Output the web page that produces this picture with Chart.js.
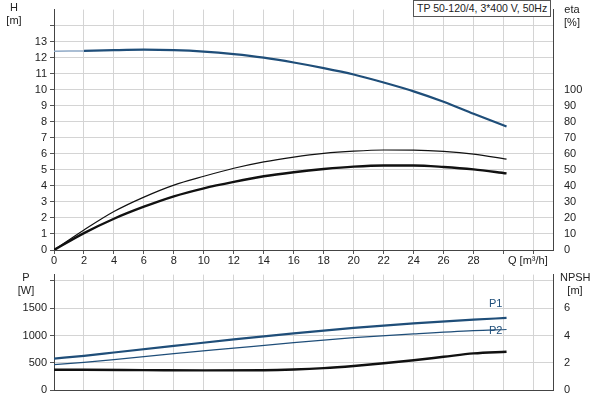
<!DOCTYPE html>
<html><head><meta charset="utf-8">
<script src="https://cdn.jsdelivr.net/npm/chart.js@4"></script>
<style>
body{margin:0;background:#fff;font-family:"Liberation Sans",Arial,sans-serif;}
#w{position:relative;width:600px;height:400px;}
canvas{position:absolute;left:0;}
.t{position:absolute;font-size:11px;color:#222;text-align:center;line-height:13px;}
</style></head><body>
<div id="w">
<canvas id="c1" style="top:0" width="600" height="265"></canvas>
<canvas id="c2" style="top:265px" width="600" height="135"></canvas>
<div class="t" style="left:2px;top:1px;width:24px">H<br>[m]</div>
<div class="t" style="left:560px;top:3px;width:24px">eta<br>[%]</div>
<div class="t" style="left:413px;top:0px;border:1px solid #555;background:#fff;padding:1px 3px;font-size:10.5px">TP 50-120/4, 3*400 V, 50Hz</div>
<div class="t" style="left:508px;top:254px">Q [m³/h]</div>
<div class="t" style="left:14px;top:271px;width:24px">P<br>[W]</div>
<div class="t" style="left:560px;top:271px;width:30px">NPSH<br>[m]</div>
<div class="t" style="left:489px;top:297px;color:#1f4e79">P1</div>
<div class="t" style="left:489px;top:324px;color:#1f4e79">P2</div>
</div>
<script>
const qH=[2,4,6,8,10,12,14,16,18,20,22,24,26,28,30.2];
const hVals=[12.42,12.47,12.5,12.47,12.38,12.22,12.0,11.7,11.35,10.95,10.45,9.9,9.25,8.5,7.7];
const hExtQ=[0,2]; const hExtVals=[12.4,12.42];
const qEta=[0,2,4,6,8,10,12,14,16,18,20,22,24,26,28,30.2];
const etaVals=[0,10.5,19.5,27,33.5,38.5,42.5,46,48.5,50.5,52,52.7,52.7,51.8,50.3,47.8];
const etaTotVals=[0,12.5,24,33,40.5,46,51,55,58,60.3,61.7,62.4,62.3,61.5,59.8,56.7];
const qP=[0,2,4,8,12,16,20,24,28,30.2];
const p1Vals=[580,630,690,810,930,1040,1140,1220,1290,1320];
const p2Vals=[470,510,560,670,770,870,960,1030,1090,1110];
const qN=[0,2,6,10,14,16,18,20,22,24,26,28,30.2];
const npshVals=[1.5,1.5,1.48,1.46,1.47,1.52,1.62,1.78,1.98,2.2,2.45,2.7,2.82];
const xTicks=[0,2,4,6,8,10,12,14,16,18,20,22,24,26,28];
const pts=(xs,ys)=>xs.map((x,i)=>({x,y:ys[i]}));
Chart.defaults.font.family='"Liberation Sans",Arial,sans-serif';
Chart.defaults.font.size=11;
Chart.defaults.color='#222';
const grid={color:'#d4d4d4',tickLength:4,tickColor:'#555'};
const fixW=w=>function(s){s.width=w;};
const range=(a,b,s)=>{const r=[];for(let v=a;v<=b+1e-9;v+=s)r.push({value:v});return r;};
const ds=(data,color,width,axis)=>({data,borderColor:color,borderWidth:width,pointRadius:0,tension:0.4,fill:false,yAxisID:axis,cubicInterpolationMode:'monotone'});
new Chart(document.getElementById('c1'),{type:'line',
data:{datasets:[
ds(pts(hExtQ,hExtVals),'#8fa9c6',1.5,'y'),
ds(pts(qH,hVals),'#1f4e79',2.2,'y'),
ds(pts(qEta,etaTotVals),'#111',1.2,'y2'),
ds(pts(qEta,etaVals),'#111',2.4,'y2')]},
options:{responsive:false,animation:false,layout:{padding:0},
plugins:{legend:{display:false},tooltip:{enabled:false}},
scales:{
x:{type:'linear',min:0,max:33.3,grid:grid,border:{color:'#444'},afterFit(s){s.height=15;},
 afterBuildTicks(s){s.ticks=[...xTicks,30,32].map(v=>({value:v}));},
 ticks:{padding:0,maxRotation:0,autoSkip:false,callback:v=>v<=28?v:''}},
y:{min:0,max:15,position:'left',grid:grid,border:{color:'#444'},afterFit:fixW(54),
 afterBuildTicks(s){s.ticks=range(0,14,1);},
 ticks:{padding:3,autoSkip:false,callback:v=>v<=13?v:''}},
y2:{min:0,max:150,position:'right',grid:{display:false},border:{color:'#444'},afterFit:fixW(47),
 afterBuildTicks(s){s.ticks=range(0,100,10);},
 ticks:{padding:3,autoSkip:false}}}}});
new Chart(document.getElementById('c2'),{type:'line',
data:{datasets:[
ds(pts(qP,p1Vals),'#1f4e79',2.2,'y'),
ds(pts(qP,p2Vals),'#1f4e79',1.2,'y'),
ds(pts(qN,npshVals),'#111',2.4,'y2')]},
options:{responsive:false,animation:false,layout:{padding:{top:5,bottom:0}},
plugins:{legend:{display:false},tooltip:{enabled:false}},
scales:{
x:{type:'linear',min:0,max:33.3,grid:{color:'#d4d4d4',drawTicks:false},border:{color:'#444'},afterFit(s){s.height=9;},
 afterBuildTicks(s){s.ticks=[...xTicks,30,32].map(v=>({value:v}));},
 ticks:{display:false}},
y:{min:0,max:2110,position:'left',grid:grid,border:{color:'#444'},afterFit:fixW(54),
 afterBuildTicks(s){s.ticks=[0,500,1000,1500,2000].map(v=>({value:v}));},
 ticks:{padding:3,autoSkip:false,callback:v=>v<=1500?v:''}},
y2:{min:0,max:8.44,position:'right',grid:{display:false},border:{color:'#444'},afterFit:fixW(47),
 afterBuildTicks(s){s.ticks=[0,2,4,6].map(v=>({value:v}));},
 ticks:{padding:3,autoSkip:false}}}}});
</script></body></html>
